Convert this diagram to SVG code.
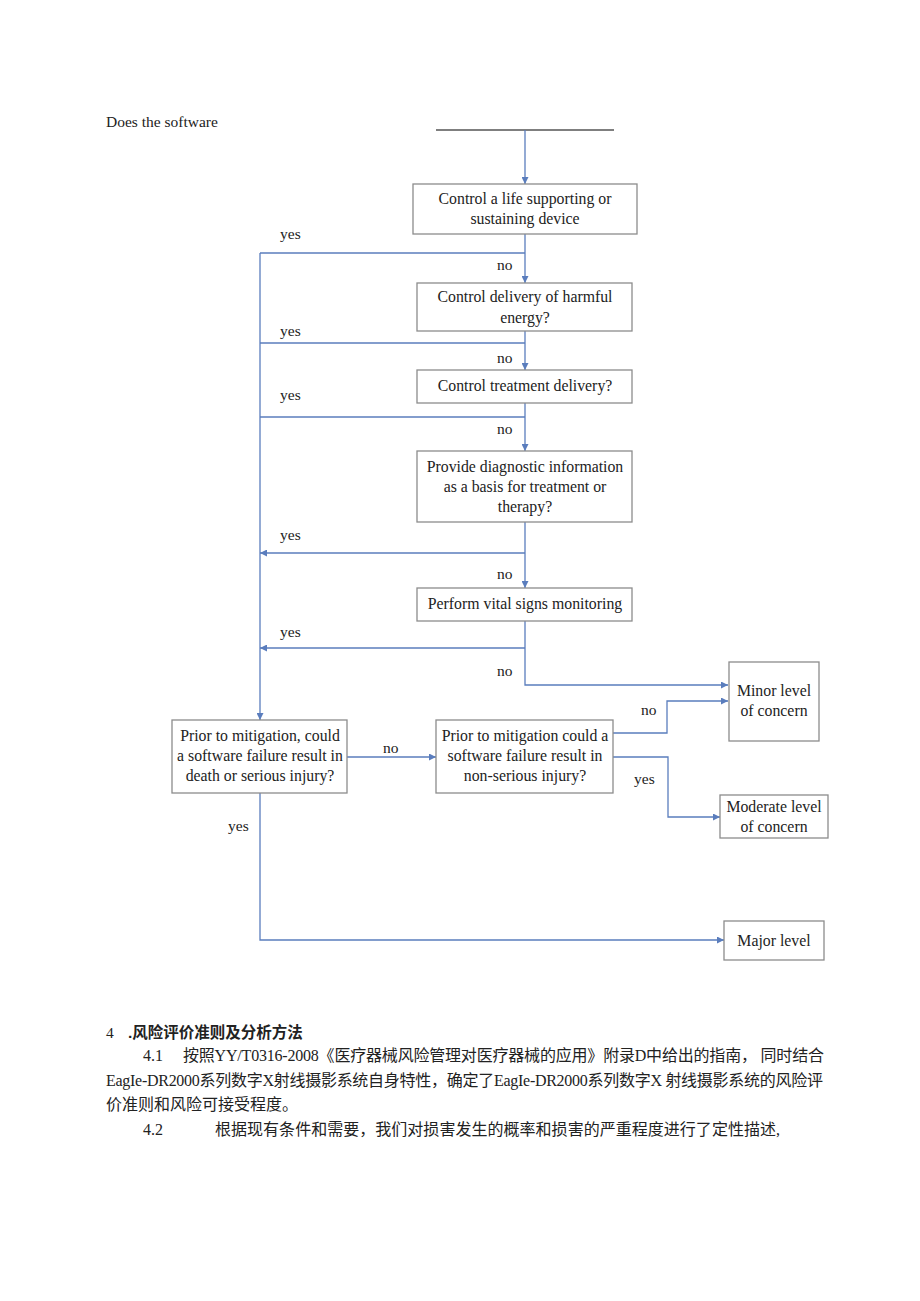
<svg xmlns="http://www.w3.org/2000/svg" width="920" height="1301" viewBox="0 0 920 1301">
<style>
.bx{fill:#fff;stroke:#8c8c8c;stroke-width:1.3}
.t{font-family:"Liberation Serif","Times New Roman",serif;font-size:15.8px;fill:#222;text-anchor:middle}
.l{font-family:"Liberation Serif","Times New Roman",serif;font-size:15.5px;fill:#222}
.c{fill:none;stroke:#5a7dbd;stroke-width:1.3}
.cn{font-family:"Liberation Serif","Noto Sans CJK SC",serif;font-size:16px;fill:#222}
.hd{font-family:"Liberation Sans","Noto Sans CJK SC",sans-serif;font-size:15.5px;fill:#222;font-weight:600}
</style>
<defs>
<marker id="ar" viewBox="0 0 10 10" refX="10" refY="5" markerWidth="7" markerHeight="7" markerUnits="userSpaceOnUse" orient="auto">
<path d="M0,0L10,5L0,10z" fill="#5a7dbd"/>
</marker>
</defs>
<rect width="920" height="1301" fill="#fff"/>
<text class="l" x="106" y="127" font-size="15">Does the software</text>
<line x1="436" y1="130" x2="614" y2="130" stroke="#555" stroke-width="1.3"/>
<g id="connectors">
<path class="c" d="M525,130V184" marker-end="url(#ar)"/>
<path class="c" d="M525,234V283" marker-end="url(#ar)"/>
<path class="c" d="M525,253H260"/>
<path class="c" d="M260,253V720" marker-end="url(#ar)"/>
<path class="c" d="M525,331V370" marker-end="url(#ar)"/>
<path class="c" d="M525,343H260"/>
<path class="c" d="M525,403V451" marker-end="url(#ar)"/>
<path class="c" d="M525,417H260"/>
<path class="c" d="M525,522V588" marker-end="url(#ar)"/>
<path class="c" d="M525,553H260" marker-end="url(#ar)"/>
<path class="c" d="M525,621V685H728" marker-end="url(#ar)"/>
<path class="c" d="M525,648H260" marker-end="url(#ar)"/>
<path class="c" d="M347,757H436" marker-end="url(#ar)"/>
<path class="c" d="M613,733H667V701H728" marker-end="url(#ar)"/>
<path class="c" d="M613,757H668V817H720" marker-end="url(#ar)"/>
<path class="c" d="M260,793V940H724" marker-end="url(#ar)"/>
<text class="l" x="280" y="239">yes</text>
<text class="l" x="497" y="270">no</text>
<text class="l" x="280" y="336">yes</text>
<text class="l" x="497" y="363">no</text>
<text class="l" x="280" y="400">yes</text>
<text class="l" x="497" y="434">no</text>
<text class="l" x="280" y="540">yes</text>
<text class="l" x="497" y="579">no</text>
<text class="l" x="280" y="637">yes</text>
<text class="l" x="497" y="676">no</text>
<text class="l" x="383" y="753">no</text>
<text class="l" x="641" y="715">no</text>
<text class="l" x="634" y="784">yes</text>
<text class="l" x="228" y="831">yes</text>
</g>
<g id="n1"><rect class="bx" x="413" y="184" width="224" height="50"/><text class="t" x="525" y="204">Control a life supporting or</text><text class="t" x="525" y="224">sustaining device</text></g>
<g id="n2"><rect class="bx" x="417" y="283" width="215" height="48"/><text class="t" x="525" y="302">Control delivery of harmful</text><text class="t" x="525" y="323">energy?</text></g>
<g id="n3"><rect class="bx" x="417" y="370" width="215" height="33"/><text class="t" x="525" y="391">Control treatment delivery?</text></g>
<g id="n4"><rect class="bx" x="417" y="451" width="215" height="71"/><text class="t" x="525" y="472">Provide diagnostic information</text><text class="t" x="525" y="492">as a basis for treatment or</text><text class="t" x="525" y="512">therapy?</text></g>
<g id="n5"><rect class="bx" x="417" y="588" width="215" height="33"/><text class="t" x="525" y="609">Perform vital signs monitoring</text></g>
<g id="n6"><rect class="bx" x="172" y="720" width="175" height="73"/><text class="t" x="260" y="741">Prior to mitigation, could</text><text class="t" x="260" y="761">a software failure result in</text><text class="t" x="260" y="781">death or serious injury?</text></g>
<g id="n7"><rect class="bx" x="436" y="720" width="177" height="73"/><text class="t" x="525" y="741">Prior to mitigation could a</text><text class="t" x="525" y="761">software failure result in</text><text class="t" x="525" y="781">non-serious injury?</text></g>
<g id="minor"><rect class="bx" x="729" y="662" width="90" height="79"/><text class="t" x="774" y="696">Minor level</text><text class="t" x="774" y="716">of concern</text></g>
<g id="moderate"><rect class="bx" x="720" y="795" width="108" height="43"/><text class="t" x="774" y="812">Moderate level</text><text class="t" x="774" y="832">of concern</text></g>
<g id="major"><rect class="bx" x="724" y="921" width="100" height="39"/><text class="t" x="774" y="946">Major level</text></g>
<text class="hd" x="106" y="1038"><tspan font-family="Liberation Serif,serif" font-weight="400">4</tspan><tspan x="128">.风险评价准则及分析方法</tspan></text>
<text class="cn" x="143" y="1061">4.1</text>
<text class="cn" x="183" y="1061" textLength="641" lengthAdjust="spacing">按照YY/T0316-2008《医疗器械风险管理对医疗器械的应用》附录D中给出的指南，  同时结合</text>
<text class="cn" x="106" y="1086" textLength="717" lengthAdjust="spacing">EagIe-DR2000系列数字X射线摄影系统自身特性，确定了EagIe-DR2000系列数字X 射线摄影系统的风险评</text>
<text class="cn" x="106" y="1110">价准则和风险可接受程度。</text>
<text class="cn" x="143" y="1135">4.2</text>
<text class="cn" x="215" y="1135" textLength="565" lengthAdjust="spacing">根据现有条件和需要，我们对损害发生的概率和损害的严重程度进行了定性描述,</text>
</svg>
